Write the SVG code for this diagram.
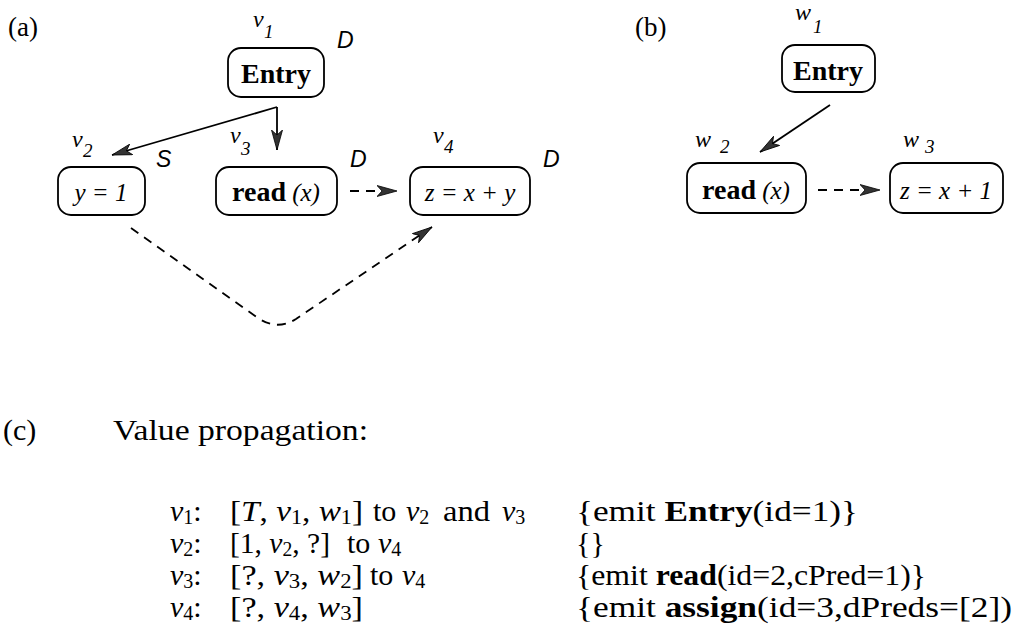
<svg xmlns="http://www.w3.org/2000/svg" width="1014" height="641" viewBox="0 0 1014 641">
<style>
.box{fill:none;stroke:#000;stroke-width:1.8}
.lbl{font-family:"Liberation Serif",serif;font-size:27px;fill:#000}
.nb{font-family:"Liberation Serif",serif;font-size:28px;font-weight:bold;fill:#000}
.ni{font-family:"Liberation Serif",serif;font-size:25px;font-style:italic;fill:#000}
.vv{font-family:"Liberation Serif",serif;font-size:24px;font-style:italic;fill:#000}
.vs{font-family:"Liberation Serif",serif;font-size:19px;font-style:italic;fill:#000}
.ds{font-family:"Liberation Sans",sans-serif;font-size:23px;font-style:italic;fill:#000}
.tx{font-family:"Liberation Serif",serif;font-size:30px;fill:#000}
.it{font-style:italic}
.bd{font-weight:bold}
.sub{font-size:20px}
.solid{fill:none;stroke:#000;stroke-width:1.8}
.dash{fill:none;stroke:#000;stroke-width:1.8;stroke-dasharray:9 7}
</style>
<defs>
<marker id="ah" markerUnits="userSpaceOnUse" markerWidth="22" markerHeight="12" refX="20" refY="6" orient="auto">
<path d="M0,0.5 L20,6 L0,11.5 L5,6 z" fill="#333" stroke="#000" stroke-width="0.8"/>
</marker>
</defs>

<text class="lbl" x="8" y="36">(a)</text>
<text class="lbl" x="635" y="36">(b)</text>

<g id="connectors">
<path class="solid" d="M277,107 L277,150" marker-end="url(#ah)"/>
<path class="solid" d="M277,107 L112,155" marker-end="url(#ah)"/>
<path class="dash" d="M350,191 L397,191" marker-end="url(#ah)"/>
<path class="dash" d="M131,228 L258,318 Q277,331 296,319 L432,227" marker-end="url(#ah)"/>
<path class="solid" d="M830,105 L760,152" marker-end="url(#ah)"/>
<path class="dash" d="M818,190 L880,190" marker-end="url(#ah)"/>
</g>

<g id="v1">
<rect class="box" x="228" y="48" width="96" height="49" rx="13"/>
<text class="nb" x="276" y="83" text-anchor="middle">Entry</text>
<text class="vv" x="253" y="27">v</text><text class="vs" x="264" y="38">1</text>
<text class="ds" x="337" y="48">D</text>
</g>
<g id="v2">
<rect class="box" x="58" y="167" width="87" height="48" rx="13"/>
<text class="ni" x="101" y="201" text-anchor="middle">y = 1</text>
<text class="vv" x="72" y="147">v</text><text class="vs" x="83" y="157">2</text>
<text class="ds" x="156" y="167">S</text>
</g>
<g id="v3">
<rect class="box" x="216" y="167" width="121" height="48" rx="13"/>
<text x="276" y="201" text-anchor="middle"><tspan class="nb">read</tspan><tspan class="ni"> (x)</tspan></text>
<text class="vv" x="230" y="143">v</text><text class="vs" x="241" y="155">3</text>
<text class="ds" x="350" y="167">D</text>
</g>
<g id="v4">
<rect class="box" x="410" y="167" width="120" height="48" rx="13"/>
<text class="ni" x="470" y="201" text-anchor="middle">z = x + y</text>
<text class="vv" x="433" y="143">v</text><text class="vs" x="444" y="153">4</text>
<text class="ds" x="543" y="167">D</text>
</g>

<g id="w1">
<rect class="box" x="782" y="45" width="93" height="47" rx="13"/>
<text class="nb" x="828" y="80" text-anchor="middle">Entry</text>
<text class="vv" x="795" y="20">w</text><text class="vs" x="813" y="33">1</text>
</g>
<g id="w2">
<rect class="box" x="687" y="163" width="119" height="50" rx="13"/>
<text x="746" y="199" text-anchor="middle"><tspan class="nb">read</tspan><tspan class="ni"> (x)</tspan></text>
<text class="vv" x="695" y="147">w</text><text class="vs" x="720" y="153">2</text>
</g>
<g id="w3">
<rect class="box" x="890" y="163" width="113" height="50" rx="13"/>
<text class="ni" x="946" y="199" text-anchor="middle">z = x + 1</text>
<text class="vv" x="903" y="147">w</text><text class="vs" x="925" y="153">3</text>
</g>

<g id="propagation">
<text class="tx" x="3" y="440">(c)</text>
<text class="tx" x="113" y="440" textLength="255" lengthAdjust="spacingAndGlyphs">Value propagation:</text>

<text class="tx" x="170" y="521"><tspan class="it">v</tspan><tspan class="sub" dy="3">1</tspan><tspan dy="-3">:</tspan></text>
<text class="tx" x="230" y="521" textLength="133" lengthAdjust="spacingAndGlyphs">[<tspan class="it">T</tspan>, <tspan class="it">v</tspan><tspan class="sub" dy="3">1</tspan><tspan dy="-3">, </tspan><tspan class="it">w</tspan><tspan class="sub" dy="3">1</tspan><tspan dy="-3">]</tspan></text>
<text class="tx" x="373" y="521">to</text>
<text class="tx" x="406" y="521"><tspan class="it">v</tspan><tspan class="sub" dy="3">2</tspan></text>
<text class="tx" x="443" y="521" textLength="47" lengthAdjust="spacingAndGlyphs">and</text>
<text class="tx" x="502" y="521"><tspan class="it">v</tspan><tspan class="sub" dy="3">3</tspan></text>
<text class="tx" x="576" y="521" textLength="282" lengthAdjust="spacingAndGlyphs">{emit <tspan class="bd">Entry</tspan>(id=1)}</text>

<text class="tx" x="170" y="553"><tspan class="it">v</tspan><tspan class="sub" dy="3">2</tspan><tspan dy="-3">:</tspan></text>
<text class="tx" x="230" y="553" textLength="100" lengthAdjust="spacingAndGlyphs">[1, <tspan class="it">v</tspan><tspan class="sub" dy="3">2</tspan><tspan dy="-3">, ?]</tspan></text>
<text class="tx" x="347" y="553">to</text>
<text class="tx" x="378" y="553"><tspan class="it">v</tspan><tspan class="sub" dy="3">4</tspan></text>
<text class="tx" x="576" y="553">{}</text>

<text class="tx" x="170" y="585"><tspan class="it">v</tspan><tspan class="sub" dy="3">3</tspan><tspan dy="-3">:</tspan></text>
<text class="tx" x="230" y="585" textLength="133" lengthAdjust="spacingAndGlyphs">[?, <tspan class="it">v</tspan><tspan class="sub" dy="3">3</tspan><tspan dy="-3">, </tspan><tspan class="it">w</tspan><tspan class="sub" dy="3">2</tspan><tspan dy="-3">]</tspan></text>
<text class="tx" x="370" y="585">to</text>
<text class="tx" x="402" y="585"><tspan class="it">v</tspan><tspan class="sub" dy="3">4</tspan></text>
<text class="tx" x="576" y="585" textLength="350" lengthAdjust="spacingAndGlyphs">{emit <tspan class="bd">read</tspan>(id=2,cPred=1)}</text>

<text class="tx" x="170" y="617"><tspan class="it">v</tspan><tspan class="sub" dy="3">4</tspan><tspan dy="-3">:</tspan></text>
<text class="tx" x="230" y="617" textLength="133" lengthAdjust="spacingAndGlyphs">[?, <tspan class="it">v</tspan><tspan class="sub" dy="3">4</tspan><tspan dy="-3">, </tspan><tspan class="it">w</tspan><tspan class="sub" dy="3">3</tspan><tspan dy="-3">]</tspan></text>
<text class="tx" x="576" y="617" textLength="436" lengthAdjust="spacingAndGlyphs">{emit <tspan class="bd">assign</tspan>(id=3,dPreds=[2])</text>
</g>
</svg>
